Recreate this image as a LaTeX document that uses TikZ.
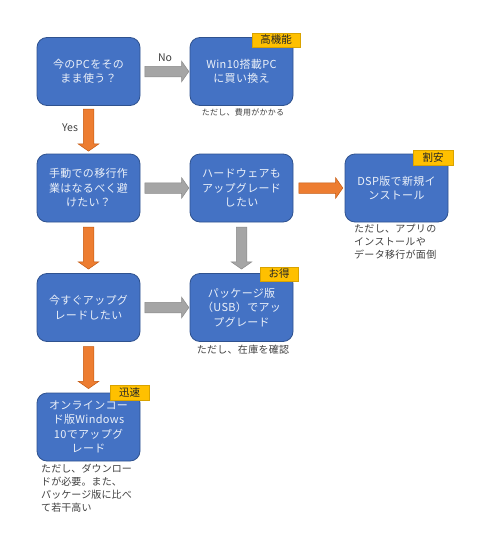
\documentclass[tikz,border=0pt]{standalone}
\usepackage{fontspec}
\setmainfont{Noto Sans CJK JP}
\usetikzlibrary{shapes.arrows,calc}
\definecolor{boxblue}{HTML}{4472C4}
\definecolor{boxedge}{HTML}{2F528F}
\definecolor{arrorange}{HTML}{ED7D31}
\definecolor{orangeedge}{HTML}{C55A11}
\definecolor{arrgray}{HTML}{A5A5A5}
\definecolor{grayedge}{HTML}{8A8A8A}
\definecolor{badgeyellow}{HTML}{FFC000}
\definecolor{notetext}{HTML}{404040}
\begin{document}
\begin{tikzpicture}[x=1pt,y=-1pt,
  box/.style={rectangle, rounded corners=10pt, fill=boxblue, draw=boxedge, line width=0.8pt,
    minimum width=103pt, minimum height=68pt, align=center, text=white!90!boxblue,
    font=\fontsize{11}{14.5}\selectfont\addfontfeature{LetterSpace=3}, inner sep=0pt},
  badge/.style={rectangle, fill=badgeyellow, draw=badgeyellow!85!black, line width=0.3pt,
    text=black!85, font=\fontsize{10.5}{12}\selectfont, inner sep=0pt},
  note/.style={text=notetext, font=\fontsize{10}{13.3}\selectfont\addfontfeature{LetterSpace=3}, inner sep=0pt, align=left},
  lbl/.style={text=notetext, font=\fontsize{10.5}{12}\selectfont, inner sep=0pt},
  blk/.style={single arrow, minimum width=20pt, inner sep=5pt, single arrow head extend=5pt,
    single arrow tip angle=110, line width=0.5pt},
  harr/.style={blk, minimum height=44pt},
  varr/.style={blk, minimum height=42pt, shape border rotate=270},
  grayarr/.style={fill=arrgray, draw=grayedge},
  orangearr/.style={fill=arrorange, draw=orangeedge}
]
\useasboundingbox (0,0) rectangle (480,533);
\fill[white] (0,0) rectangle (480,533);

% boxes
\node[box] (q1) at (88.5,71.5) {今のPCをその\\まま使う？};
\node[box] (r1) at (241.5,71.5) {Win10搭載PC\\に買い換え};
\node[box] (q2) at (88.5,188) {手動での移行作\\業はなるべく避\\けたい？};
\node[box] (q3) at (241.5,188) {ハードウェアも\\アップグレード\\したい};
\node[box] (r2) at (396.5,188) {DSP版で新規イ\\ンストール};
\node[box] (q4) at (88.5,307.5) {今すぐアップグ\\レードしたい};
\node[box] (r3) at (241.5,307.5) {パッケージ版\\（USB）でアッ\\プグレード};
\node[box] (r4) at (88.5,427) {オンラインコー\\ド版Windows\\10でアップグ\\レード};

% badges
\node[badge, minimum width=48pt, minimum height=14pt] (b1) at (276,40) {高機能};
\node[badge, minimum width=40pt, minimum height=15pt] (b2) at (433,157.5) {割安};
\node[badge, minimum width=38pt, minimum height=14pt] (b3) at (279,274) {お得};
\node[badge, minimum width=39pt, minimum height=15pt] (b4) at (129.5,392.5) {迅速};

% block arrows
\node[harr, grayarr] (a1) at ($(q1.east)!0.5!(r1.west)$) {};
\node[varr, orangearr] (a2) at ($(q1.south)!0.47!(q2.north)$) {};
\node[harr, grayarr] (a3) at ($(q2.east)!0.5!(q3.west)$) {};
\node[harr, orangearr] (a4) at ($(q3.east)!0.5!(r2.west)$) {};
\node[varr, orangearr] (a5) at ($(q2.south)!0.47!(q4.north)$) {};
\node[varr, grayarr] (a6) at ($(q3.south)!0.47!(r3.north)$) {};
\node[harr, grayarr] (a7) at ($(q4.east)!0.5!(r3.west)$) {};
\node[varr, orangearr] (a8) at ($(q4.south)!0.47!(r4.north)$) {};

% labels
\node[lbl] (no) at (165,58) {No};
\node[lbl] (yes) at (70,128) {Yes};

% notes
\node[note, font=\fontsize{8}{9}\selectfont\addfontfeature{LetterSpace=3}] (n1) at (243,112) {ただし、費用がかかる};
\node[note, anchor=north west] (n2) at (354,223.5) {ただし、アプリの\\インストールや\\データ移行が面倒};
\node[note] (n3) at (243,350) {ただし、在庫を確認};
\node[note, anchor=north west, font=\fontsize{10}{13}\selectfont\addfontfeature{LetterSpace=1}] (n4) at (41,463.5) {ただし、ダウンロー\\ドが必要。また、\\パッケージ版に比べ\\て若干高い};
\end{tikzpicture}
\end{document}
